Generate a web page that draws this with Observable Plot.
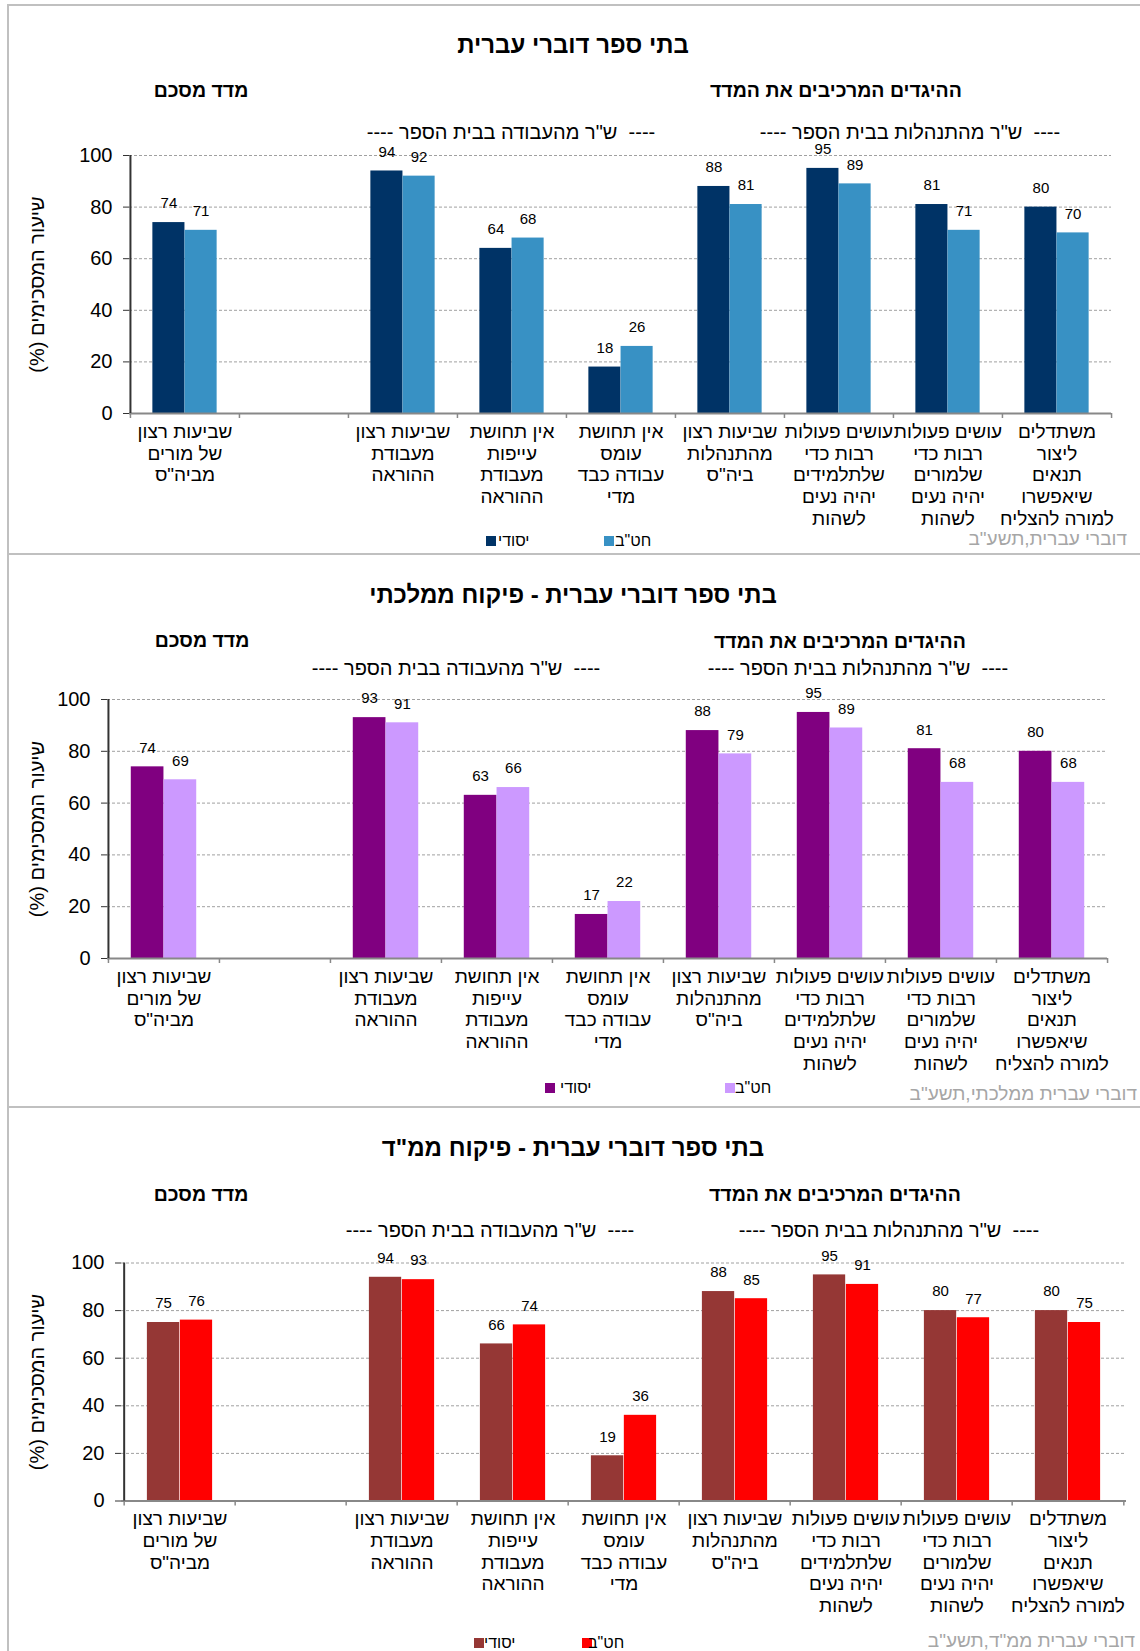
<!DOCTYPE html>
<html lang="he">
<head>
<meta charset="utf-8">
<script src="https://cdn.jsdelivr.net/npm/d3@7"></script>
<script src="https://cdn.jsdelivr.net/npm/@observablehq/plot@0.6"></script>
<style>
  body { margin: 0; background: #fff; font-family: "Liberation Sans", Arial, sans-serif; }
  #page { position: relative; width: 1140px; height: 1651px; overflow: hidden; }
  .panel { position: absolute; left: 7px; width: 1140px; border-top: 2px solid #c0c0c0; border-left: 2px solid #c0c0c0; box-sizing: border-box; }
  .lbl { position: absolute; transform: translate(-50%, -50%); white-space: pre; direction: rtl; color: #000; line-height: 1; }
  .title { font-size: 24px; font-weight: bold; }
  .head { font-size: 19.5px; font-weight: bold; }
  .group { font-size: 20px; }
  .src { position: absolute; transform: translateY(-50%); white-space: pre; direction: rtl; color: #a6a6a6; font-size: 19px; line-height: 1; }
  .sq { position: absolute; width: 10px; height: 10px; transform: translateY(-50%); }
  .leg { position: absolute; transform: translateY(-50%); font-size: 16px; line-height: 1; direction: rtl; white-space: pre; }
  .chart { position: absolute; left: 0; }
</style>
</head>
<body>
<div id="page"></div>
<script>
// ---------- data ----------
const categories = [
  "שביעות רצון\nשל מורים\nמביה\"ס",
  " ",
  "שביעות רצון\nמעבודת\nההוראה",
  "אין תחושת\nעייפות\nמעבודת\nההוראה",
  "אין תחושת\nעומס\nעבודה כבד\nמדי",
  "שביעות רצון\nמהתנהלות\nביה\"ס",
  "עושים פעולות\nרבות כדי\nשלתלמידים\nיהיה נעים\nלשהות",
  "עושים פעולות\nרבות כדי\nשלמורים\nיהיה נעים\nלשהות",
  "משתדלים\nליצור\nתנאים\nשיאפשרו\nלמורה להצליח"
];
const barCategories = categories.filter(c => c.trim() !== "");
const seriesNames = ["יסודי", "חט\"ב"];

const hebrewYesodi    = [74, 94, 64, 18, 88, 95, 81, 80];
const hebrewHativa    = [71, 92, 68, 26, 81, 89, 71, 70];
const mamlachtiYesodi = [74, 93, 63, 17, 88, 95, 81, 80];
const mamlachtiHativa = [69, 91, 66, 22, 79, 89, 68, 68];
const mamadYesodi     = [75, 94, 66, 19, 88, 95, 80, 80];
const mamadHativa     = [76, 93, 74, 36, 85, 91, 77, 75];

const yTicks = [0, 20, 40, 60, 80, 100];
const titles = ["בתי ספר דוברי עברית", "בתי ספר דוברי עברית - פיקוח ממלכתי", "בתי ספר דוברי עברית - פיקוח ממ\"ד"];
const sources = ["דוברי עברית,תשע\"ב", "דוברי עברית ממלכתי,תשע\"ב", "דוברי עברית ממ\"ד,תשע\"ב"];
const summaryHeader = "מדד מסכם";
const itemsHeader = "ההיגדים המרכיבים את המדד";
const groupWork = "----  ש\"ר מהעבודה בבית הספר ----";
const groupMgmt = "----  ש\"ר מהתנהלות בבית הספר ----";
const yLabel = "\u200Fשיעור המסכימים (%)\u200F";

// ---------- layout ----------
const panels = [
  { values: [hebrewYesodi, hebrewHativa], title: titles[0], source: sources[0],
    colors: ["#003366", "#3891c4"],
    top: 4, height: 549, svgTop: 100, mL: 129, mR: 29, mT: 55, frameH: 258, mB: 130,
    titlePos: [573, 45], summaryPos: [201, 91], itemsPos: [836, 91], workPos: [511, 131.5], mgmtPos: [910, 131.5],
    legY: 541, legSq: [486, 604], legTx: [498, 615], srcRight: 1127, srcY: 538 },
  { values: [mamlachtiYesodi, mamlachtiHativa], title: titles[1], source: sources[1],
    colors: ["#800080", "#cc99ff"],
    top: 553, height: 553, svgTop: 640, mL: 107, mR: 33, mT: 59, frameH: 259, mB: 120,
    titlePos: [573, 595], summaryPos: [202, 641], itemsPos: [840, 642], workPos: [456, 668], mgmtPos: [858, 668],
    legY: 1088, legSq: [545, 725], legTx: [560, 735], srcRight: 1137, srcY: 1093 },
  { values: [mamadYesodi, mamadHativa], title: titles[2], source: sources[2],
    colors: ["#953735", "#ff0000"],
    top: 1106, height: 560, svgTop: 1200, mL: 121, mR: 14, mT: 62.5, frameH: 238, mB: 140,
    titlePos: [573, 1148], summaryPos: [201, 1195], itemsPos: [835, 1195], workPos: [490, 1230], mgmtPos: [889, 1230],
    legY: 1643, legSq: [474, 582], legTx: [484, 588], srcRight: 1135, srcY: 1640 }
];

const page = document.getElementById("page");
function addDiv(cls, text, x, y, extra = {}) {
  const d = document.createElement("div");
  d.className = cls;
  if (text != null) d.textContent = text;
  d.style.left = x + "px";
  d.style.top = y + "px";
  Object.assign(d.style, extra);
  page.appendChild(d);
  return d;
}

const W = 1140;
for (const p of panels) {
  const frame = document.createElement("div");
  frame.className = "panel";
  frame.style.top = p.top + "px";
  frame.style.height = p.height + "px";
  page.appendChild(frame);

  addDiv("lbl title", p.title, p.titlePos[0], p.titlePos[1]);
  addDiv("lbl head", summaryHeader, p.summaryPos[0], p.summaryPos[1]);
  addDiv("lbl head", itemsHeader, p.itemsPos[0], p.itemsPos[1]);
  addDiv("lbl group", groupWork, p.workPos[0], p.workPos[1]);
  addDiv("lbl group", groupMgmt, p.mgmtPos[0], p.mgmtPos[1]);

  const rows = [];
  p.values.forEach((arr, s) => arr.forEach((v, i) => rows.push({ cat: barCategories[i], series: seriesNames[s], value: v })));
  const s0 = rows.filter(r => r.series === seriesNames[0]);
  const s1 = rows.filter(r => r.series === seriesNames[1]);

  const bw = (W - p.mL - p.mR) / categories.length;
  const barW = bw * 0.295;
  const tickUnits = 5 / (p.frameH / 100);

  const chart = Plot.plot({
    width: W,
    height: p.mT + p.frameH + p.mB,
    marginLeft: p.mL, marginRight: p.mR, marginTop: p.mT, marginBottom: p.mB,
    x: { domain: categories, padding: 0 },
    y: { domain: [0, 100] },
    style: { fontFamily: '"Liberation Sans", Arial, sans-serif', background: "transparent", overflow: "visible", color: "#000" },
    marks: [
      Plot.gridY({ ticks: yTicks.filter(t => t > 0), stroke: "#a0a0a0", strokeOpacity: 1, strokeDasharray: "3,2" }),
      Plot.barY(s0, { x: "cat", y: "value", fill: p.colors[0], insetLeft: bw / 2 - barW, insetRight: bw / 2 }),
      Plot.barY(s1, { x: "cat", y: "value", fill: p.colors[1], insetLeft: bw / 2, insetRight: bw / 2 - barW }),
      Plot.text(s0, { x: "cat", y: "value", text: d => String(d.value), dx: -barW / 2, dy: -19, fontSize: 15, fill: "#000" }),
      Plot.text(s1, { x: "cat", y: "value", text: d => String(d.value), dx: barW / 2, dy: -19, fontSize: 15, fill: "#000" }),
      Plot.ruleY([0], { stroke: "#888", strokeWidth: 2 }),
      Plot.ruleX(categories, { x: d => d, dx: -bw / 2, y1: 0, y2: -tickUnits, stroke: "#888", strokeWidth: 1.5 }),
      Plot.ruleX([categories[categories.length - 1]], { x: d => d, dx: bw / 2, y1: 0, y2: -tickUnits, stroke: "#888", strokeWidth: 1.5 }),
      Plot.ruleX([categories[0]], { x: d => d, dx: -bw / 2, y1: 0, y2: 100, stroke: "#333", strokeWidth: 2 }),
      Plot.axisY({ ticks: yTicks, tickSize: 6, tickPadding: 11, fontSize: 20, label: null, stroke: "#333" }),
      Plot.axisX({ tickSize: 0, tickPadding: 9, fontSize: 19, lineHeight: 1.14, label: null }),
      Plot.text([yLabel], { frameAnchor: "left", textAnchor: "middle", dx: -(p.mL - 37), rotate: -90, fontSize: 20, fill: "#000" })
    ]
  });
  chart.classList.add("chart");
  chart.style.top = p.svgTop + "px";
  page.appendChild(chart);

  // legend
  p.colors.forEach((c, i) => {
    addDiv("sq", null, p.legSq[i], p.legY, { background: c });
    addDiv("leg", seriesNames[i], p.legTx[i], p.legY);
  });
  // source
  const src = addDiv("src", p.source, 0, p.srcY);
  src.style.left = "auto";
  src.style.right = (W - p.srcRight) + "px";
}
</script>
</body>
</html>
